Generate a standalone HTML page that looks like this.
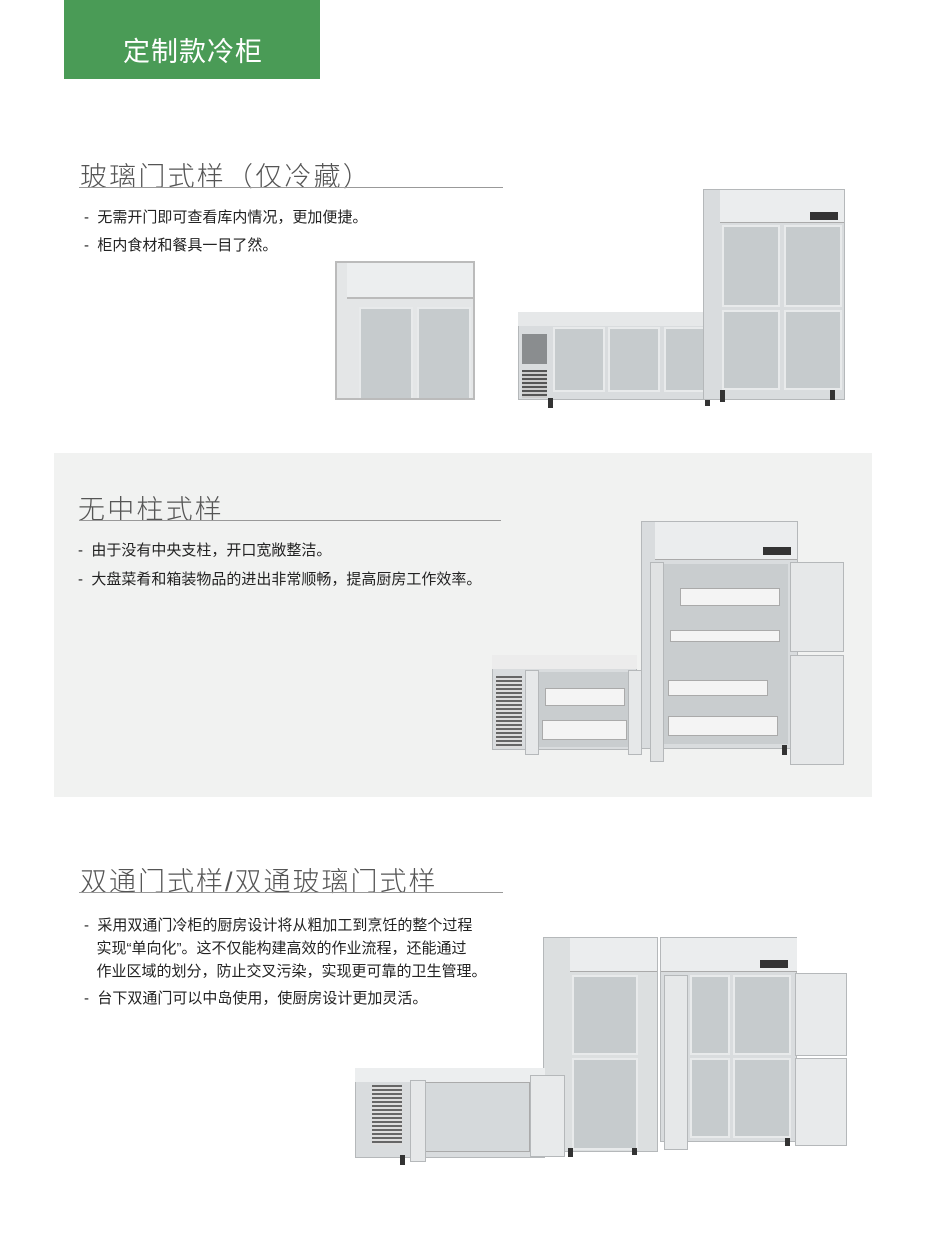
<!DOCTYPE html>
<html><head><meta charset="utf-8"><style>
*{margin:0;padding:0;box-sizing:border-box}
body{width:926px;height:1257px;position:relative;background:#fff;font-family:"Liberation Sans","Noto Sans CJK SC",sans-serif;overflow:hidden}
.a{position:absolute}
.h{position:absolute;font-size:27px;color:#555;font-weight:300;letter-spacing:2.2px;white-space:nowrap}
.ul{position:absolute;height:1px;background:#999}
.t{position:absolute;font-size:15px;color:#222;white-space:nowrap;line-height:23px}
.f{position:absolute;background:#d9dcde;border:1px solid #b5b8ba}
.g{position:absolute;background:#c6cbcd;border:2px solid #e8eaeb}
.w{position:absolute;background:#f4f4f4;border:1px solid #aaa}
.leg{position:absolute;width:5px;background:#333}
</style></head><body>
<div class="a" style="left:64px;top:0;width:256px;height:79px;background:#4a9b56"></div>
<div class="a" style="left:123px;top:30px;font-size:27px;color:#fff;letter-spacing:1px">定制款冷柜</div>

<div class="h" style="left:80px;top:155px">玻璃门式样（仅冷藏）</div>
<div class="ul" style="left:79px;top:187px;width:424px"></div>
<div class="t" style="left:84px;top:206px">-&nbsp; 无需开门即可查看库内情况，更加便捷。</div>
<div class="t" style="left:84px;top:234px">-&nbsp; 柜内食材和餐具一目了然。</div>

<div class="a" style="left:335px;top:261px;width:140px;height:139px;border:2px solid #bbb;background:#e4e6e7;overflow:hidden">
 <div class="a" style="left:10px;top:0;width:130px;height:36px;background:#eceeef;border-bottom:2px solid #bbb"></div>
 <div class="g" style="left:22px;top:44px;width:54px;height:95px"></div>
 <div class="g" style="left:80px;top:44px;width:54px;height:95px"></div>
</div>

<div class="f" style="left:518px;top:312px;width:198px;height:88px"></div>
<div class="a" style="left:518px;top:312px;width:198px;height:14px;background:#e6e8e9"></div>
<div class="a" style="left:522px;top:334px;width:25px;height:30px;background:#8a8d8f"></div>
<div class="a" style="left:522px;top:370px;width:25px;height:28px;background:repeating-linear-gradient(#555 0 2px,#ccc 2px 4px)"></div>
<div class="g" style="left:553px;top:327px;width:52px;height:65px"></div>
<div class="g" style="left:608px;top:327px;width:52px;height:65px"></div>
<div class="g" style="left:664px;top:327px;width:46px;height:65px"></div>
<div class="leg" style="left:548px;top:398px;height:10px"></div>
<div class="leg" style="left:705px;top:398px;height:8px"></div>

<div class="f" style="left:703px;top:189px;width:142px;height:211px"></div>
<div class="a" style="left:720px;top:190px;width:124px;height:33px;background:#ebedee;border-bottom:1px solid #aaa"></div>
<div class="a" style="left:810px;top:212px;width:28px;height:8px;background:#333"></div>
<div class="g" style="left:722px;top:225px;width:58px;height:82px"></div>
<div class="g" style="left:784px;top:225px;width:58px;height:82px"></div>
<div class="g" style="left:722px;top:310px;width:58px;height:80px"></div>
<div class="g" style="left:784px;top:310px;width:58px;height:80px"></div>
<div class="leg" style="left:720px;top:390px;height:12px"></div>
<div class="leg" style="left:830px;top:390px;height:10px"></div>

<div class="a" style="left:54px;top:453px;width:818px;height:344px;background:#f1f2f1"></div>
<div class="h" style="left:78px;top:488px">无中柱式样</div>
<div class="ul" style="left:79px;top:520px;width:422px"></div>
<div class="t" style="left:78px;top:539px">-&nbsp; 由于没有中央支柱，开口宽敞整洁。</div>
<div class="t" style="left:78px;top:568px">-&nbsp; 大盘菜肴和箱装物品的进出非常顺畅，提高厨房工作效率。</div>

<div class="f" style="left:641px;top:521px;width:157px;height:228px"></div>
<div class="a" style="left:655px;top:522px;width:142px;height:38px;background:#ebedee;border-bottom:1px solid #aaa"></div>
<div class="a" style="left:763px;top:547px;width:28px;height:8px;background:#333"></div>
<div class="a" style="left:664px;top:564px;width:124px;height:180px;background:#c9cdcf"></div>
<div class="w" style="left:680px;top:588px;width:100px;height:18px"></div>
<div class="w" style="left:670px;top:630px;width:110px;height:12px"></div>
<div class="w" style="left:668px;top:680px;width:100px;height:16px"></div>
<div class="w" style="left:668px;top:716px;width:110px;height:20px"></div>
<div class="f" style="left:650px;top:562px;width:14px;height:200px;background:#e0e2e3"></div>
<div class="f" style="left:790px;top:562px;width:54px;height:90px;background:#e6e8e9"></div>
<div class="f" style="left:790px;top:655px;width:54px;height:110px;background:#e6e8e9"></div>
<div class="leg" style="left:782px;top:745px;height:10px"></div>

<div class="f" style="left:492px;top:655px;width:145px;height:95px"></div>
<div class="a" style="left:492px;top:655px;width:145px;height:14px;background:#ececec"></div>
<div class="a" style="left:496px;top:676px;width:26px;height:72px;background:repeating-linear-gradient(#666 0 2px,#ddd 2px 4px)"></div>
<div class="a" style="left:538px;top:672px;width:92px;height:75px;background:#c9cdcf"></div>
<div class="w" style="left:545px;top:688px;width:80px;height:18px"></div>
<div class="w" style="left:542px;top:720px;width:85px;height:20px"></div>
<div class="f" style="left:525px;top:670px;width:14px;height:85px;background:#e6e8e9"></div>
<div class="f" style="left:628px;top:670px;width:14px;height:85px;background:#e6e8e9"></div>

<div class="h" style="left:80px;top:860px;letter-spacing:2px">双通门式样/双通玻璃门式样</div>
<div class="ul" style="left:79px;top:892px;width:424px"></div>
<div class="t" style="left:84px;top:914px">-&nbsp; 采用双通门冷柜的厨房设计将从粗加工到烹饪的整个过程</div>
<div class="t" style="left:84px;top:937px">&nbsp;&nbsp;&nbsp;实现“单向化”。这不仅能构建高效的作业流程，还能通过</div>
<div class="t" style="left:84px;top:960px">&nbsp;&nbsp;&nbsp;作业区域的划分，防止交叉污染，实现更可靠的卫生管理。</div>
<div class="t" style="left:84px;top:987px">-&nbsp; 台下双通门可以中岛使用，使厨房设计更加灵活。</div>

<div class="f" style="left:543px;top:937px;width:115px;height:215px;background:#dcdfe0"></div>
<div class="a" style="left:570px;top:938px;width:87px;height:34px;background:#ebedee;border-bottom:1px solid #aaa"></div>
<div class="g" style="left:572px;top:975px;width:66px;height:80px"></div>
<div class="g" style="left:572px;top:1058px;width:66px;height:92px"></div>
<div class="leg" style="left:568px;top:1148px;height:9px"></div>
<div class="leg" style="left:632px;top:1148px;height:7px"></div>

<div class="f" style="left:355px;top:1068px;width:190px;height:90px"></div>
<div class="a" style="left:355px;top:1068px;width:190px;height:14px;background:#eceeef"></div>
<div class="a" style="left:372px;top:1085px;width:30px;height:60px;background:repeating-linear-gradient(#666 0 2px,#ddd 2px 4px)"></div>
<div class="a" style="left:425px;top:1082px;width:105px;height:70px;background:#d5d9db;border:1px solid #aaa"></div>
<div class="f" style="left:410px;top:1080px;width:16px;height:82px;background:#e6e8e9"></div>
<div class="f" style="left:530px;top:1075px;width:35px;height:82px;background:#e8eaeb"></div>
<div class="leg" style="left:400px;top:1155px;height:10px"></div>

<div class="f" style="left:660px;top:937px;width:137px;height:205px"></div>
<div class="a" style="left:661px;top:938px;width:136px;height:34px;background:#ebedee;border-bottom:1px solid #aaa"></div>
<div class="a" style="left:760px;top:960px;width:28px;height:8px;background:#333"></div>
<div class="g" style="left:690px;top:975px;width:40px;height:80px"></div>
<div class="g" style="left:733px;top:975px;width:58px;height:80px"></div>
<div class="g" style="left:690px;top:1058px;width:40px;height:80px"></div>
<div class="g" style="left:733px;top:1058px;width:58px;height:80px"></div>
<div class="f" style="left:664px;top:975px;width:24px;height:175px;background:#e6e8e9"></div>
<div class="f" style="left:795px;top:973px;width:52px;height:83px;background:#e8eaeb"></div>
<div class="f" style="left:795px;top:1058px;width:52px;height:88px;background:#e8eaeb"></div>
<div class="leg" style="left:785px;top:1138px;height:8px"></div>
</body></html>
